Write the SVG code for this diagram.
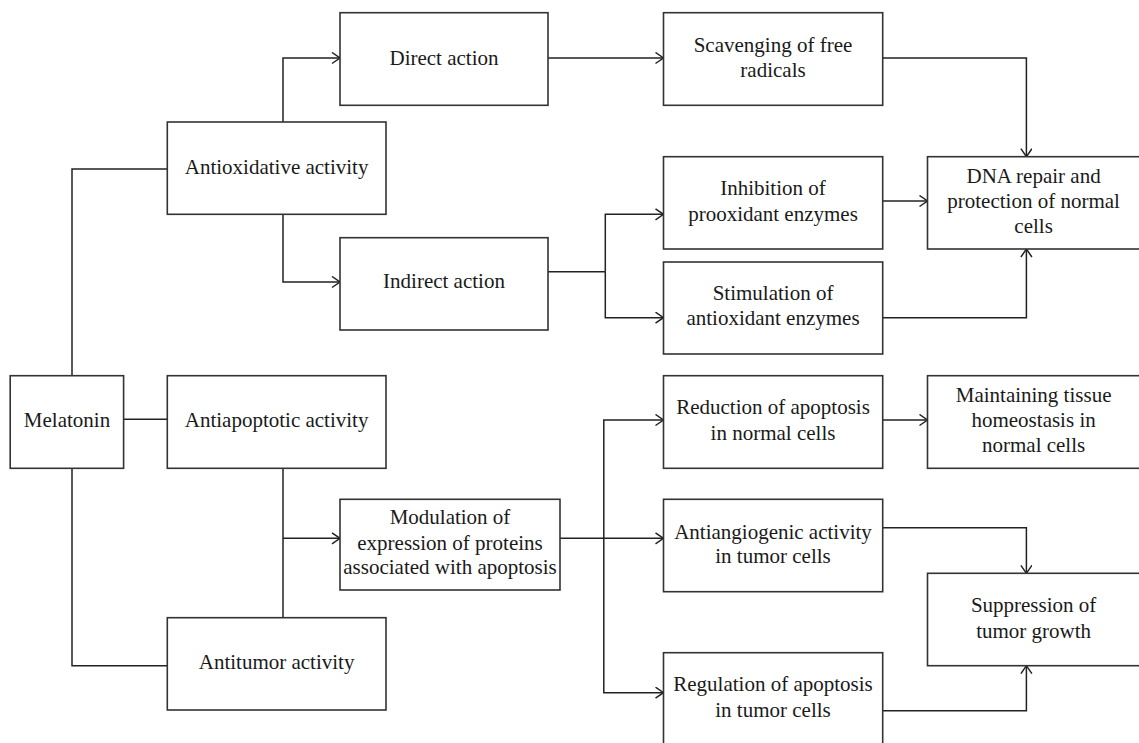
<svg xmlns="http://www.w3.org/2000/svg" width="1139" height="743" viewBox="0 0 1139 743">
<style>
.box{fill:#fff;stroke:#333;stroke-width:1.6}
.lbl{font-family:"Liberation Serif","Times New Roman",serif;font-size:21px;fill:#1a1a1a;text-anchor:middle}
.ln{fill:none;stroke:#222;stroke-width:1.5}
.ar{marker-end:url(#arr)}
</style>
<defs>
<marker id="arr" markerUnits="userSpaceOnUse" markerWidth="12" markerHeight="14" refX="9" refY="6" orient="auto" viewBox="0 0 12 14">
<path d="M1,0.5 L9,6 L1,11.5" fill="none" stroke="#222" stroke-width="1.5"/>
</marker>
</defs>
<rect width="1139" height="743" fill="#fff"/>
<g id="connectors">
<path class="ln ar" d="M283,122 V58 H340"/>
<path class="ln ar" d="M283,214 V282 H340"/>
<path class="ln" d="M167,169 H72 V375.7"/>
<path class="ln" d="M124,419.3 H167"/>
<path class="ln" d="M72,468.3 V665.7 H167"/>
<path class="ln ar" d="M548,58 H663.5"/>
<path class="ln ar" d="M882.7,58 H1026.4 V156.7"/>
<path class="ln" d="M548,271.7 H605.3"/>
<path class="ln ar" d="M605.3,271.7 V214.3 H663.5"/>
<path class="ln ar" d="M605.3,271.7 V317.7 H663.5"/>
<path class="ln ar" d="M882.7,201 H927.5"/>
<path class="ln ar" d="M882.7,317.7 H1026.4 V249"/>
<path class="ln" d="M283,468.3 V617.7"/>
<path class="ln ar" d="M283,538.3 H340"/>
<path class="ln ar" d="M560,538.3 H663.5"/>
<path class="ln ar" d="M603.8,538.3 V420 H663.5"/>
<path class="ln ar" d="M603.8,538.3 V692.7 H663.5"/>
<path class="ln ar" d="M882.7,420 H927.5"/>
<path class="ln ar" d="M882.7,527.7 H1026.4 V573.3"/>
<path class="ln ar" d="M882.7,710.7 H1026.4 V665.7"/>
</g>
<g id="melatonin"><rect class="box" x="10.2" y="375.7" width="113.4" height="92.6"/><text class="lbl" x="67" y="427.3">Melatonin</text></g>
<g id="antioxidative"><rect class="box" x="167.3" y="122" width="218.7" height="92.3"/><text class="lbl" x="276.6" y="174">Antioxidative activity</text></g>
<g id="antiapoptotic"><rect class="box" x="167.3" y="375.7" width="218.7" height="92.6"/><text class="lbl" x="276.6" y="427.3">Antiapoptotic activity</text></g>
<g id="antitumor"><rect class="box" x="167.3" y="617.7" width="218.7" height="92.3"/><text class="lbl" x="276.6" y="669">Antitumor activity</text></g>
<g id="direct"><rect class="box" x="340" y="12.7" width="208" height="92.6"/><text class="lbl" x="444" y="65">Direct action</text></g>
<g id="indirect"><rect class="box" x="340" y="237.7" width="208" height="92.3"/><text class="lbl" x="444" y="288">Indirect action</text></g>
<g id="modulation"><rect class="box" x="340" y="499.3" width="220" height="90.7"/><text class="lbl" x="450" y="524">Modulation of</text><text class="lbl" x="450" y="550">expression of proteins</text><text class="lbl" x="450" y="574.3">associated with apoptosis</text></g>
<g id="scavenging"><rect class="box" x="663.5" y="12.7" width="219.2" height="92.6"/><text class="lbl" x="773" y="51.7">Scavenging of free</text><text class="lbl" x="773" y="76.7">radicals</text></g>
<g id="inhibition"><rect class="box" x="663.5" y="156.7" width="219.2" height="92.3"/><text class="lbl" x="773" y="195">Inhibition of</text><text class="lbl" x="773" y="220.7">prooxidant enzymes</text></g>
<g id="stimulation"><rect class="box" x="663.5" y="262" width="219.2" height="92"/><text class="lbl" x="773" y="300">Stimulation of</text><text class="lbl" x="773" y="325">antioxidant enzymes</text></g>
<g id="dna"><rect class="box" x="927.5" y="156.7" width="214" height="92.3"/><text class="lbl" x="1033.6" y="182.7">DNA repair and</text><text class="lbl" x="1033.6" y="208.3">protection of normal</text><text class="lbl" x="1033.6" y="233.3">cells</text></g>
<g id="reduction"><rect class="box" x="663.5" y="375.7" width="219.2" height="92.6"/><text class="lbl" x="773" y="414.3">Reduction of apoptosis</text><text class="lbl" x="773" y="440">in normal cells</text></g>
<g id="maintaining"><rect class="box" x="927.5" y="375.7" width="214" height="92.6"/><text class="lbl" x="1033.6" y="401.7">Maintaining tissue</text><text class="lbl" x="1033.6" y="426.7">homeostasis in</text><text class="lbl" x="1033.6" y="452.3">normal cells</text></g>
<g id="antiangiogenic"><rect class="box" x="663.5" y="499.3" width="219.2" height="92.4"/><text class="lbl" x="773" y="539">Antiangiogenic activity</text><text class="lbl" x="773" y="562.7">in tumor cells</text></g>
<g id="suppression"><rect class="box" x="927.5" y="573.3" width="214" height="92.4"/><text class="lbl" x="1033.6" y="611.7">Suppression of</text><text class="lbl" x="1033.6" y="637.7">tumor growth</text></g>
<g id="regulation"><rect class="box" x="663.5" y="652.7" width="219.2" height="93"/><text class="lbl" x="773" y="690.7">Regulation of apoptosis</text><text class="lbl" x="773" y="716.7">in tumor cells</text></g>
</svg>
